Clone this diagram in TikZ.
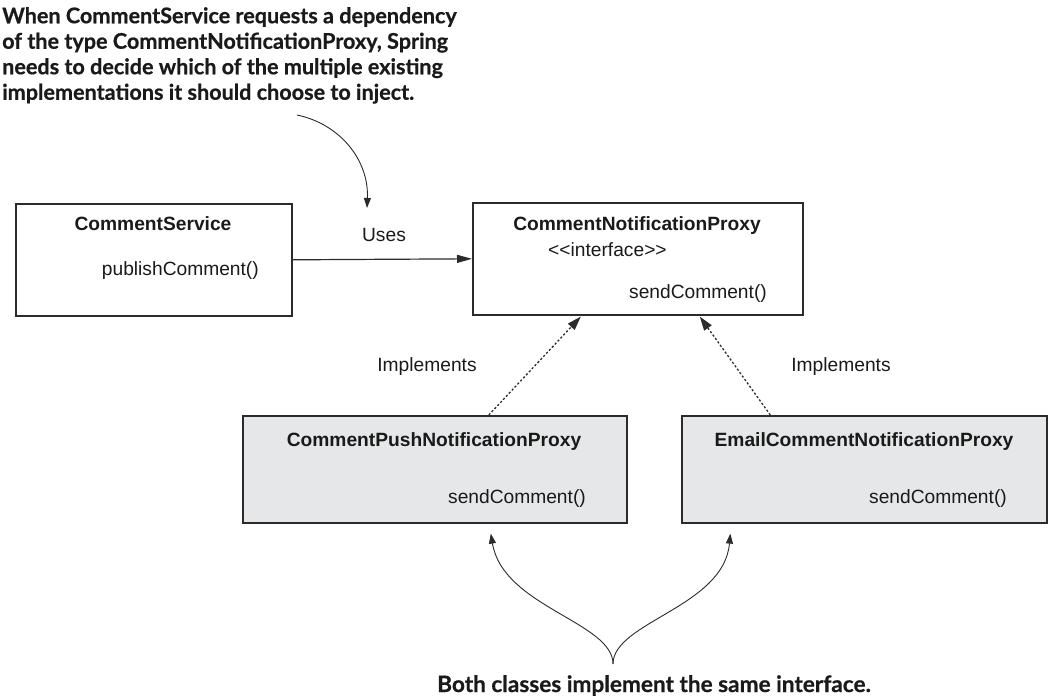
\documentclass[tikz,border=0pt]{standalone}
\usepackage{fontspec}
\setmainfont{Liberation Sans}
\newfontfamily\notefont[BoldFeatures={FakeBold=0.6}]{Lato}
\usetikzlibrary{arrows.meta,calc}
\definecolor{boxline}{HTML}{2B2B2B}
\definecolor{boxfill}{HTML}{E6E7E8}
\definecolor{txt}{HTML}{1A1A1A}
\begin{document}
\begin{tikzpicture}[x=1pt,y=-1pt,
  clsbox/.style={draw=boxline, line width=1.6pt, fill=#1, rectangle, inner sep=0pt, anchor=north west},
  lbl/.style={font=\fontsize{19.2}{22}\selectfont, text=txt, inner sep=0pt},
  ttl/.style={font=\fontsize{19.2}{22}\selectfont\bfseries, text=txt, inner sep=0pt},
  note/.style={font=\notefont\bfseries\fontsize{21.6}{25.5}\selectfont, text=txt, inner sep=0pt, align=left},
  uses/.style={draw=boxline, line width=1.2pt, -{Triangle[length=15pt,width=8pt]}},
  impl/.style={draw=boxline, line width=1.3pt, dash pattern=on 2.2pt off 2pt, -{Triangle[length=14pt,width=9pt]}},
  annot/.style={draw=boxline, line width=0.9pt, -{Triangle[length=10pt,width=7pt]}}
]
\useasboundingbox (0,0) rectangle (1048,699);

% boxes
\node[clsbox=white, minimum width=276pt, minimum height=112pt] (cs) at (15,203) {};
\node[clsbox=white, minimum width=330pt, minimum height=112pt] (cnp) at (472,202) {};
\node[clsbox=boxfill, minimum width=384pt, minimum height=107pt] (push) at (242,415) {};
\node[clsbox=boxfill, minimum width=365pt, minimum height=107pt] (email) at (681,415) {};

% box texts
\node[ttl, anchor=base] (csT) at (153,230) {CommentService};
\node[lbl, anchor=base east] (csM) at (259,275) {publishComment()};
\node[ttl, anchor=base] (cnpT) at (637,230) {CommentNotificationProxy};
\node[lbl, anchor=base west] (cnpS) at (548,256) {<{}<interface>{}>};
\node[lbl, anchor=base east] (cnpM) at (767,298) {sendComment()};
\node[ttl, anchor=base] (pushT) at (434,446) {CommentPushNotificationProxy};
\node[lbl, anchor=base east] (pushM) at (586,503) {sendComment()};
\node[ttl, anchor=base] (emailT) at (864,446) {EmailCommentNotificationProxy};
\node[lbl, anchor=base east] (emailM) at (1007,503) {sendComment()};

% connector labels
\node[lbl, anchor=base] (usesL) at (384,241) {Uses};
\node[lbl, anchor=base] (impL1) at (427,371) {Implements};
\node[lbl, anchor=base] (impL2) at (841,371) {Implements};

% connectors
\draw[uses] (cs.east) -- (cnp.west);
\draw[impl] ($(push.north)+(54,0)$) -- ($(cnp.south)+(-57,1)$);
\draw[impl] ($(email.north)+(-94,0)$) -- ($(cnp.south)+(62,1)$);

% notes
\node[note, anchor=north west] (topnote) at (2,7) {When CommentService requests a dependency\\of the type CommentNotificationProxy, Spring\\needs to decide which of the multiple existing\\implementations it should choose to inject.};
\node[note, anchor=base, font=\notefont\bfseries\fontsize{22.6}{26}\selectfont] (botnote) at (654,692) {Both classes implement the same interface.};

\coordinate (n1) at (297,115);
\coordinate (n2) at (367,208);
\draw[annot] (n1) .. controls (340,124) and (369,160) .. (n2);

\coordinate (cusp) at (613,664);
\draw[annot] (cusp) .. controls (613,622) and (503,607) .. ($(push.south)+(56,10)$);
\draw[annot] (cusp) .. controls (613,622) and (724,607) .. ($(email.south)+(-134,10)$);
\end{tikzpicture}
\end{document}
